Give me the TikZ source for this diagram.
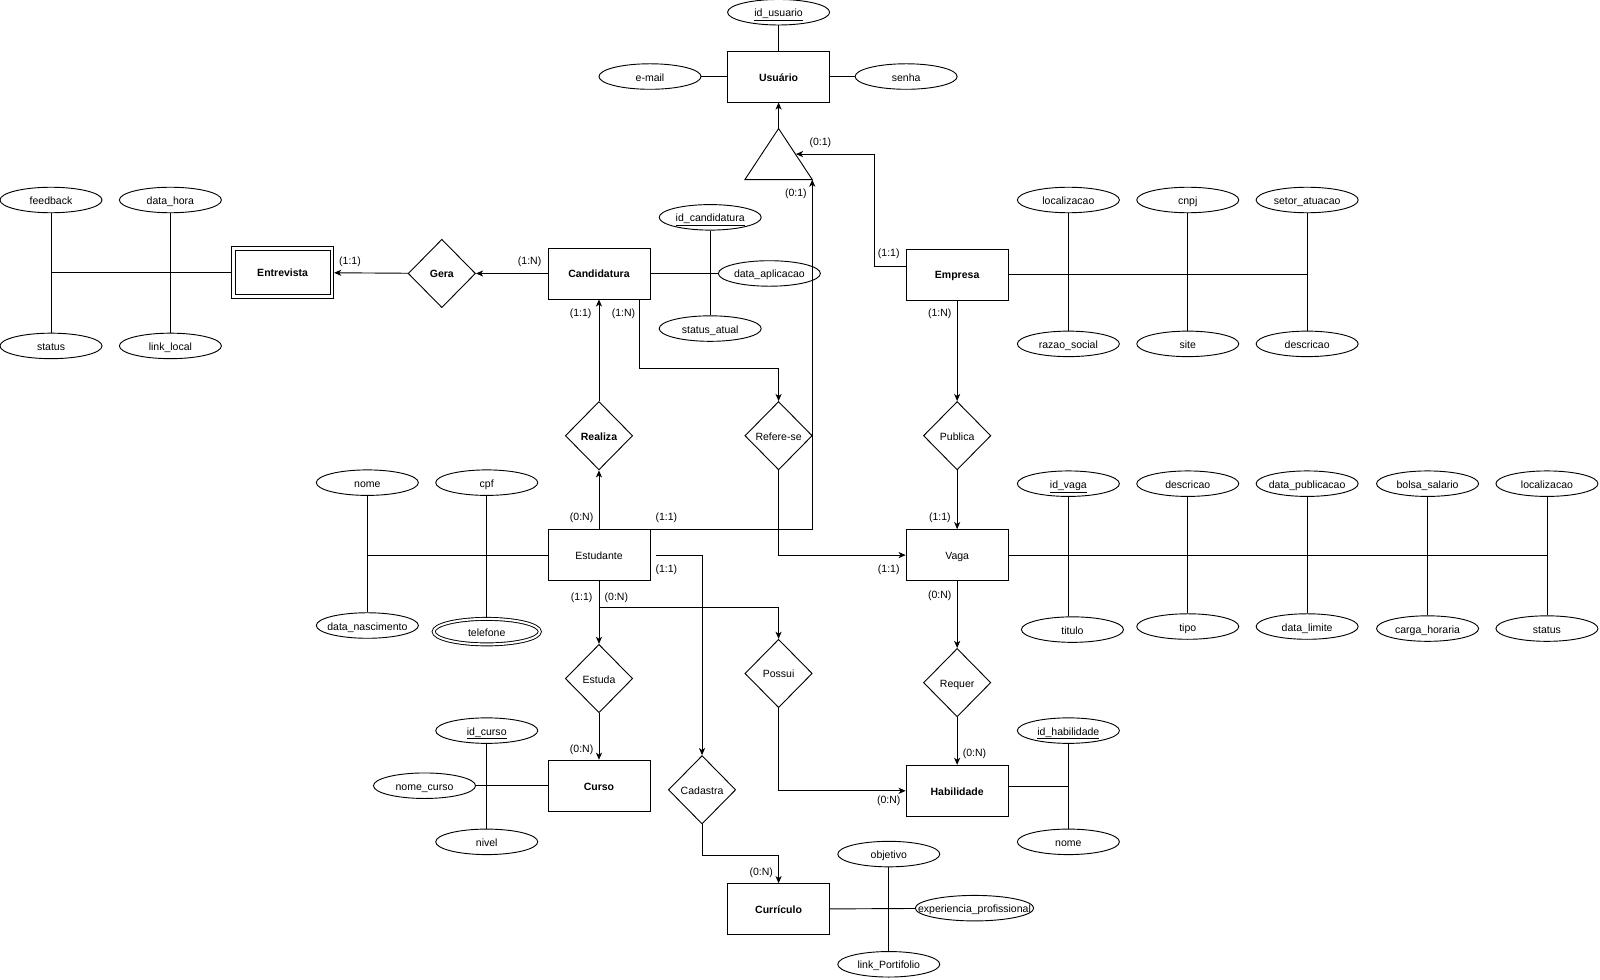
\documentclass[tikz,border=0pt]{standalone}
\usepackage{fontspec}
\setmainfont{Liberation Sans}
\usetikzlibrary{
    arrows.meta,
    positioning,
    shapes.geometric,
}

\newcommand{\erfont}{\fontsize{10.3}{12.4}\selectfont}

\begin{document}
\begin{tikzpicture}[
        x=1pt, y=-1pt, line width=0.9pt,
        every node/.style={font=\erfont, text height=9.4pt, text depth=0.6pt},
        entity/.style={rectangle, draw, minimum width=100pt, minimum height=50pt,
            inner sep=0pt, font=\erfont\bfseries},
        plain/.style={font=\erfont},
        relation/.style={diamond, draw, minimum width=66pt, minimum height=67pt,
            inner sep=0pt},
        attrib/.style={ellipse, draw, minimum width=100pt, minimum height=25pt,
            inner sep=0pt,
            execute at begin node={\hbox to 0pt\bgroup\hss},
            execute at end node={\hss\egroup}},
        multi/.style={attrib, double, double distance=2pt, minimum width=104pt},
        card/.style={inner sep=0pt},
        arr/.style={-{Stealth[length=7pt, width=6pt, inset=2pt]}},
    ]
        \useasboundingbox (0,0) rectangle (1568,960);

        % Usuario and its specialization
        \node[entity] (usuario) at (763,75) {Usuário};
        \node[attrib] (idusuario) at (763,12) {\underline{id\_usuario}};
        \node[attrib] (email) at (637,75) {e-mail};
        \node[attrib] (senha) at (888,75) {senha};
        \draw (idusuario) -- (usuario);
        \draw (email) -- (usuario);
        \draw (usuario) -- (senha);

        \coordinate (tri-top) at (763,126);
        \coordinate (tri-left) at (730,176);
        \coordinate (tri-right) at (796,176);
        \coordinate (tri-side) at (780,151);
        \draw (tri-top) -- (tri-right) -- (tri-left) -- cycle;
        \draw[arr] (tri-top) -- (usuario);

        % Entrevista (weak entity)
        \node[entity] (entrevista) at (277,267) {Entrevista};
        \draw ([shift={(4pt,-4pt)}]entrevista.north west)
            rectangle ([shift={(-4pt,4pt)}]entrevista.south east);
        \node[attrib] (feedback) at (50,196) {feedback};
        \node[attrib] (datahora) at (167,196) {data\_hora};
        \node[attrib] (statusent) at (50,339) {status};
        \node[attrib] (linklocal) at (167,339) {link\_local};
        \draw (entrevista.west) -- (feedback.south |- entrevista.west);
        \draw (feedback) -- (statusent);
        \draw (datahora) -- (linklocal);

        \node[relation, font=\erfont\bfseries] (gera) at (433,268) {Gera};

        % Candidatura
        \node[entity] (cand) at (587,268) {Candidatura};
        \node[attrib] (idcand) at (696,213) {\underline{id\_candidatura}};
        \node[attrib] (dataapl) at (754,268) {data\_aplicacao};
        \node[attrib] (statusatual) at (696,322) {status\_atual};
        \draw (cand) -- (dataapl);
        \draw (idcand) -- (statusatual);

        \draw[arr] (cand) -- (gera);
        \draw[arr] (gera) -- (entrevista);
        \node[card] at (519,255) {(1:N)};
        \node[card] at (343,255) {(1:1)};

        % Empresa
        \node[entity] (empresa) at (938,269) {Empresa};
        \node[attrib] (localizacao) at (1047,196) {localizacao};
        \node[attrib] (cnpj) at (1164,196) {cnpj};
        \node[attrib] (setor) at (1281,196) {setor\_atuacao};
        \node[attrib] (razao) at (1047,337) {razao\_social};
        \node[attrib] (site) at (1164,337) {site};
        \node[attrib] (descricao) at (1281,337) {descricao};
        \draw (empresa.east) -- (setor.south |- empresa.east);
        \draw (localizacao) -- (razao);
        \draw (cnpj) -- (site);
        \draw (setor) -- (descricao);

        \draw[arr] ([yshift=8pt]empresa.west) -- ++(-31,0) |- (tri-side);
        \node[card] at (871,247) {(1:1)};
        \node[card] at (804,138) {(0:1)};

        % Relationships of the middle row
        \node[relation, font=\erfont\bfseries] (realiza) at (587,427) {Realiza};
        \node[relation] (referese) at (763,427) {Refere-se};
        \node[relation] (publica) at (938,427) {Publica};

        % Estudante
        \node[entity, plain] (estudante) at (587,544) {Estudante};
        \node[attrib] (nome) at (360,473) {nome};
        \node[attrib] (cpf) at (477,473) {cpf};
        \node[attrib] (datanasc) at (360,613) {data\_nascimento};
        \node[multi] (telefone) at (477,619) {telefone};
        \draw (estudante.west) -- (nome.south |- estudante.west);
        \draw (nome) -- (datanasc);
        \draw (cpf) -- (telefone);

        % Vaga
        \node[entity, plain] (vaga) at (938,544) {Vaga};
        \node[attrib] (idvaga) at (1047,474) {\underline{id\_vaga}};
        \node[attrib] (descvaga) at (1164,474) {descricao};
        \node[attrib] (datapub) at (1281,474) {data\_publicacao};
        \node[attrib] (bolsa) at (1399,474) {bolsa\_salario};
        \node[attrib] (localvaga) at (1516,474) {localizacao};
        \node[attrib] (titulo) at (1051,617) {titulo};
        \node[attrib] (tipo) at (1164,614) {tipo};
        \node[attrib] (datalim) at (1281,614) {data\_limite};
        \node[attrib] (carga) at (1399,616) {carga\_horaria};
        \node[attrib] (statusvaga) at (1516,616) {status};
        \draw (vaga.east) -- (localvaga.south |- vaga.east);
        \draw (idvaga) -- (idvaga |- titulo.north);
        \draw (descvaga) -- (tipo);
        \draw (datapub) -- (datalim);
        \draw (bolsa) -- (carga);
        \draw (localvaga) -- (statusvaga);

        \draw[arr] (estudante) -- (realiza);
        \draw[arr] (realiza) -- (cand);
        \draw[arr] ([xshift=40pt]cand.south) -- ++(0,68) -| (referese.north);
        \draw[arr] (referese.south) |- (vaga.west);
        \draw[arr] (empresa) -- (publica);
        \draw[arr] (publica) -- (vaga);
        \draw[arr] (estudante.north east) -| (tri-right);
        \node[card] at (569,306) {(1:1)};
        \node[card] at (611,306) {(1:N)};
        \node[card] at (921,306) {(1:N)};
        \node[card] at (570,506) {(0:N)};
        \node[card] at (653,506) {(1:1)};
        \node[card] at (921,506) {(1:1)};
        \node[card] at (780,188) {(0:1)};
        \node[card] at (653,557) {(1:1)};
        \node[card] at (871,557) {(1:1)};

        % Lower relationships
        \node[relation] (estuda) at (587,665) {Estuda};
        \node[relation] (possui) at (763,660) {Possui};
        \node[relation] (requer) at (938,669) {Requer};
        \node[relation] (cadastra) at (688,774) {Cadastra};

        % Curso
        \node[entity] (curso) at (587,770) {Curso};
        \node[attrib] (idcurso) at (477,716) {\underline{id\_curso}};
        \node[attrib] (nomecurso) at (416,770) {nome\_curso};
        \node[attrib] (nivel) at (477,825) {nivel};
        \draw (curso) -- (nomecurso);
        \draw (idcurso) -- (nivel);

        % Habilidade
        \node[entity] (habilidade) at (938,775) {Habilidade};
        \node[attrib] (idhab) at (1047,716) {\underline{id\_habilidade}};
        \node[attrib] (nomehab) at (1047,825) {nome};
        \coordinate (habside) at ([yshift=4pt]habilidade.east);
        \draw (habside) -- (idhab.south |- habside);
        \draw (idhab) -- (nomehab);

        % Curriculo
        \node[entity] (curriculo) at (763,891) {Currículo};
        \node[attrib] (objetivo) at (871,837) {objetivo};
        \node[attrib, minimum width=116pt] (experiencia) at (955,890) {experiencia\_profissional};
        \node[attrib] (linkport) at (871,945) {link\_Portifolio};
        \draw (curriculo) -- (experiencia);
        \draw (objetivo) -- (linkport);

        \draw[arr] (estudante) -- (estuda);
        \draw[arr] (estuda) -- (curso);
        \draw[arr] (estudante.south) -- ++(0,26) -| (possui.north);
        \draw[arr] (possui.south) |- (habilidade.west);
        \draw[arr] ([xshift=5pt]estudante.east) -| (cadastra.north);
        \draw[arr] (cadastra.south) -- ++(0,30) -| (curriculo.north);
        \draw[arr] (vaga) -- (requer);
        \draw[arr] (requer) -- (habilidade);
        \node[card] at (570,584) {(1:1)};
        \node[card] at (604,584) {(0:N)};
        \node[card] at (921,582) {(0:N)};
        \node[card] at (570,733) {(0:N)};
        \node[card] at (955,737) {(0:N)};
        \node[card] at (871,783) {(0:N)};
        \node[card] at (746,854) {(0:N)};
    \end{tikzpicture}
\end{document}
